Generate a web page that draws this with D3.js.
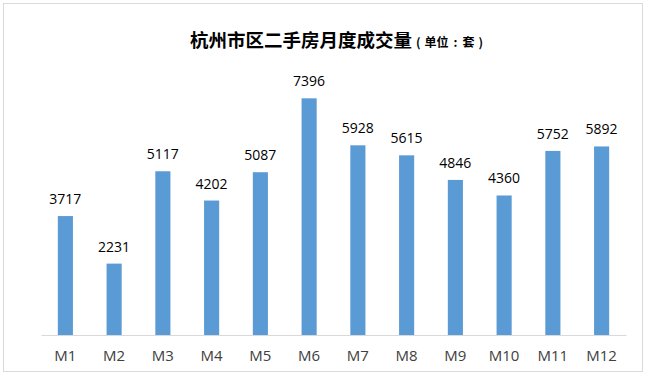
<!DOCTYPE html>
<html>
<head>
<meta charset="utf-8">
<script src="https://cdn.jsdelivr.net/npm/d3@7"></script>
<style>
  body { margin: 0; background: #fff; }
</style>
</head>
<body>
<script>
const months = ["M1","M2","M3","M4","M5","M6","M7","M8","M9","M10","M11","M12"]
const deals = [3717, 2231, 5117, 4202, 5087, 7396, 5928, 5615, 4846, 4360, 5752, 5892]
const yMax = 8000

const width = 647, height = 378
const margin = { top: 79, right: 21, bottom: 43, left: 41 }

const svg = d3.select("body").append("svg")
  .attr("width", width)
  .attr("height", height)

// chart frame
svg.append("rect")
  .attr("x", 3.5).attr("y", 3.5)
  .attr("width", 639).attr("height", 368)
  .attr("fill", "#fff")
  .attr("stroke", "#d9d9d9")

const x = d3.scaleBand()
  .domain(months)
  .range([margin.left, width - margin.right])
  .paddingInner(0.69)
  .paddingOuter(0.345)

const y = d3.scaleLinear()
  .domain([0, yMax])
  .range([height - margin.bottom, margin.top])

// title, the unit part is spaced out like the original
const title = svg.append("text")
  .attr("x", 190)
  .attr("y", 47)
  .attr("font-family", "'Noto Sans CJK SC', sans-serif")
  .attr("font-weight", "bold")
  .attr("fill", "#000")
title.append("tspan").attr("font-size", 18.5).text("杭州市区二手房月度成交量")
const unit = [["(", 4], ["单位", 4], [":", 5], ["套", 5], [")", 4]]
unit.forEach(([t, dx]) => {
  title.append("tspan").attr("font-size", 12).attr("dx", dx).text(t)
})

// bars
svg.append("g")
  .selectAll("rect")
  .data(deals)
  .join("rect")
    .attr("x", (d, i) => x(months[i]))
    .attr("y", d => y(d))
    .attr("width", x.bandwidth())
    .attr("height", d => y(0) - y(d))
    .attr("fill", "#5b9bd5")

// value labels
svg.append("g")
  .selectAll("text")
  .data(deals)
  .join("text")
    .attr("x", (d, i) => x(months[i]) + x.bandwidth() / 2)
    .attr("y", d => y(d) - 12)
    .attr("text-anchor", "middle")
    .attr("font-family", "'Open Sans', 'Noto Sans', sans-serif")
    .attr("font-size", 14)
    .attr("fill", "#000")
    .text(d => d)

// x axis
const xAxis = svg.append("g")
  .attr("transform", `translate(0,${y(0)})`)
  .call(d3.axisBottom(x).tickSize(0).tickPadding(15))
xAxis.select(".domain").attr("stroke", "#d9d9d9")
xAxis.selectAll("text")
  .attr("font-family", "'Open Sans', 'Noto Sans', sans-serif")
  .attr("font-size", 15)
  .attr("fill", "#404040")
</script>
</body>
</html>
